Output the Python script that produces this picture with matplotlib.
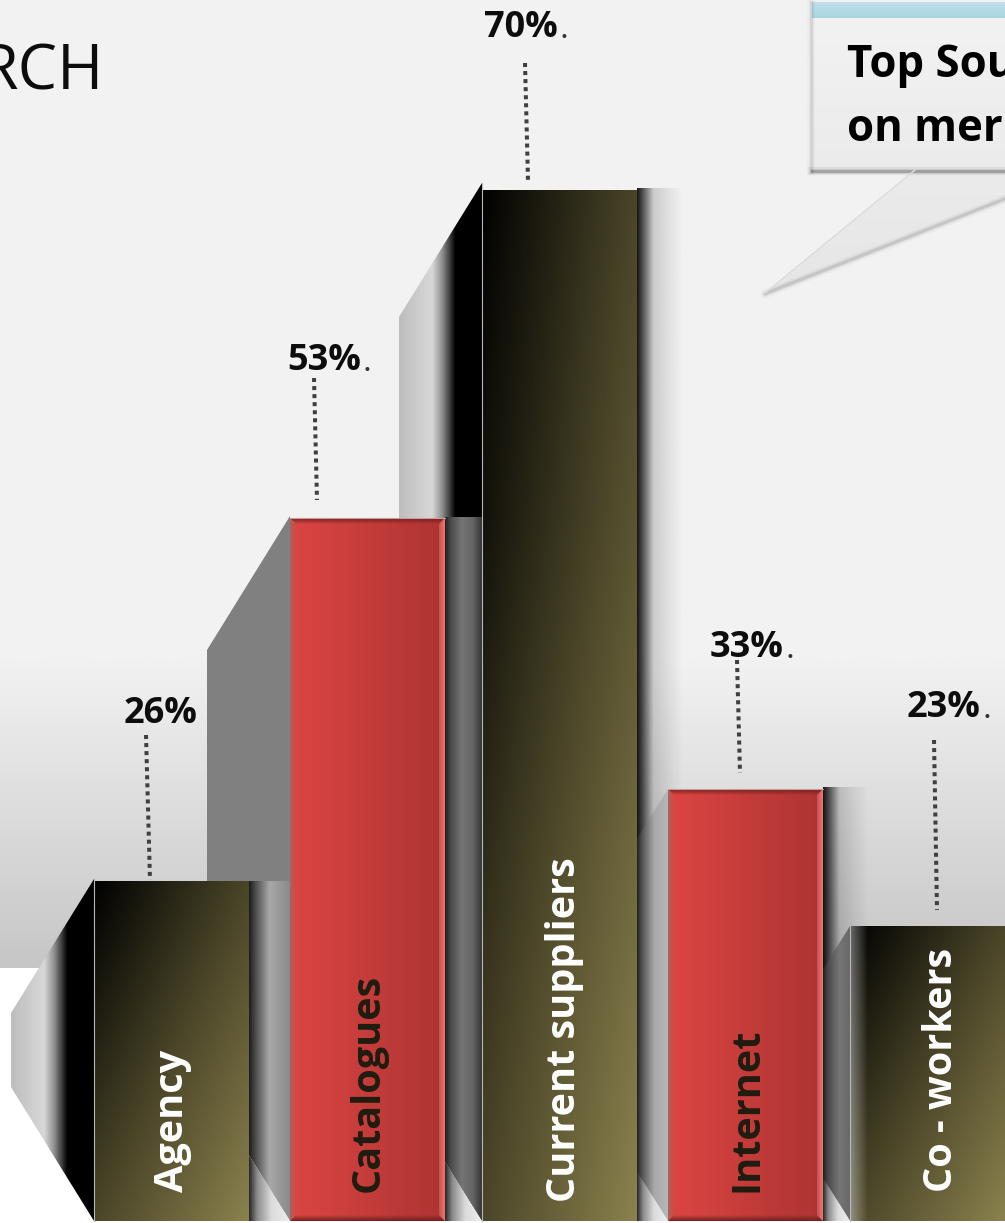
import numpy as np
import matplotlib
matplotlib.use('Agg')
import matplotlib.pyplot as plt
from matplotlib.colors import LinearSegmentedColormap, to_rgb
from matplotlib.patches import Polygon

# Survey results
categories = ['Agency', 'Catalogues', 'Current suppliers', 'Internet', 'Co - workers']
values = [26, 53, 70, 33, 23]
label_dot = [False, True, True, True, True]
bar_kind = ['dark', 'red', 'dark', 'red', 'dark']

# Value axis is not linear, bars grow faster at the top end
scale_vals = [0, 23, 26, 33, 53, 70, 85]
scale_px = [0, 295, 340, 432, 703, 1031, 1221]

# Layout in pixels
W, H = 1005, 1223
BASE = 1221
bar_left = [94, 290, 482, 668, 850]
bar_w = 155
wing_w = 83
slope = 1.6
wing_rise = [2, 2, 7, 1, 1]
label_x = [124, 287, 484, 710, 907]
label_y = [723, 370, 37, 657, 717]
leader_top = [(146, 735), (314, 378), (525, 63), (737, 660), (934, 740)]
leader_bot = [(150, 880), (317, 500), (528, 180), (740, 773), (937, 910)]
name_x = [173, 368, 564, 747, 942]
name_y = [1192, 1192, 1202, 1192, 1192]
name_col = ['white', '#1f1c10', 'white', '#1f1c10', 'white']

WING = [(0, '#bdbdbd'), (0.4, '#d8d8d8'), (0.52, '#909090'), (0.68, '#000000'), (1, '#000000')]
GAP_LOW = [(0, '#262626'), (0.2, '#8c8c8c'), (0.55, '#dcdcdc'), (1, '#eeeeee')]
GAP_A = [(0, '#1c1c1c'), (0.15, '#4a4a4a'), (0.5, '#a8a8a8'), (1, '#8a8a8a')]
GAP_B = [(0, '#1f1f1f'), (0.15, '#4a4a4a'), (0.45, '#757575'), (0.75, '#656565'), (1, '#333333')]
GAP_C = [(0, '#202020'), (0.15, '#505050'), (0.55, '#a8a8a8'), (1, '#b8b8b8')]
GAP_D = [(0, '#202020'), (0.2, '#4c4c4c'), (0.6, '#757575'), (1, '#686868')]
SHADOW = [(0, (0, 0, 0, 0.92)), (0.12, (0, 0, 0, 0.68)), (0.36, (0, 0, 0, 0.16)),
          (0.7, (0, 0, 0, 0.07)), (1, (0, 0, 0, 0))]

plt.rcParams['font.family'] = ['Open Sans', 'DejaVu Sans']
fig = plt.figure(figsize=(W / 100, H / 100), dpi=100, facecolor='white')

bg = fig.add_axes([0, 0, 1, 1], zorder=0)
ax = fig.add_axes([0, (H - BASE) / H, 1, BASE / H], zorder=1)
top = fig.add_axes([0, 0, 1, 1], zorder=2)
for a in (bg, top):
    a.set_xlim(0, W)
    a.set_ylim(H, 0)
    a.axis('off')
top.patch.set_alpha(0)


def grad(a, pts, stops, vertical=False):
    # gradient fill clipped to a polygon
    pts = np.array(pts, dtype=float)
    x0, x1 = pts[:, 0].min(), pts[:, 0].max()
    y0, y1 = pts[:, 1].min(), pts[:, 1].max()
    cmap = LinearSegmentedColormap.from_list('g', stops, N=512)
    ramp = np.linspace(0, 1, 512)
    ramp = ramp[:, None] if vertical else ramp[None, :]
    img = a.imshow(ramp, cmap=cmap, vmin=0, vmax=1, extent=(x0, x1, y1, y0),
                   aspect='auto', interpolation='bilinear')
    img.set_clip_path(Polygon(pts, transform=a.transData))
    a.set_xlim(0, W)
    a.set_ylim(H, 0)


# Value axis
ax.set_yscale('function', functions=(lambda v: np.interp(v, scale_vals, scale_px),
                                     lambda p: np.interp(p, scale_px, scale_vals)))
ax.set_xlim(0, W)
ax.set_ylim(0, scale_vals[-1])
ax.axis('off')
ax.patch.set_alpha(0)

# Page background
grad(bg, [(0, 0), (W, 0), (W, 660), (0, 660)], ['#f2f2f2', '#f2f2f2'], vertical=True)
grad(bg, [(0, 660), (W, 660), (W, 968), (0, 968)], ['#f2f2f2', '#c6c6c6'], vertical=True)

# Callout box and its tail
for lw, al in [(6, 0.03), (3.5, 0.05), (2, 0.10)]:
    bg.plot([765, 1005], [294, 199], color='black', lw=lw, alpha=al, solid_capstyle='round')
    bg.plot([812, 1005], [171, 171], color='black', lw=lw, alpha=al * 2)
    bg.plot([811, 811], [2, 171], color='black', lw=lw, alpha=al * 0.7)
grad(bg, [(915, 170), (765, 293), (1005, 198), (1005, 170)], ['#ebebeb', '#e6e6e6'], vertical=True)
bg.plot([915, 765], [170, 293], color='#dcdcdc', lw=1)
grad(bg, [(812, 2), (W, 2), (W, 170), (812, 170)], ['#f3f3f3', '#ebebeb'], vertical=True)
grad(bg, [(812, 2), (W, 2), (W, 18), (812, 18)], ['#bfe0ea', '#a8d6e3'], vertical=True)

# Bars
bars = ax.bar(bar_left, values, width=bar_w, align='edge', linewidth=0,
              color=['#4a4528' if k == 'dark' else '#c23c3a' for k in bar_kind])
dark_map = LinearSegmentedColormap.from_list('dark', ['#000000', '#4a4528', '#8a814d'])
red_a, red_b = np.array(to_rgb('#dc4543')), np.array(to_rgb('#ac3331'))
for left, val, kind in zip(bar_left, values, bar_kind):
    xs = np.linspace(left, left + bar_w, bar_w + 1)
    ys = np.linspace(0, val, 241)
    u = (np.arange(bar_w) + 0.5)[None, :] / bar_w
    v = 1 - (np.arange(240) + 0.5)[:, None] / 240
    if kind == 'dark':
        rgb = dark_map(0.5 * u + 0.5 * v)[..., :3]
    else:
        rgb = red_a + (red_b - red_a) * (u * np.ones_like(v))[..., None]
    ax.pcolormesh(xs, ys, rgb, shading='flat', antialiased=False, linewidth=0)


def bar_top(i):
    # pixel row of the top edge of a bar
    return H - ax.transData.transform((0, values[i]))[1]


tops = [bar_top(i) for i in range(len(values))]

# Right hand shadows that fall on the page background
for i in (2, 3):
    r = bar_left[i] + bar_w
    grad(bg, [(r, tops[i] - 2), (r + 46, tops[i] - 2), (r + 46, BASE), (r, BASE)], SHADOW)

# Slanted side panels on the left of each bar
for i in (0, 2):
    l = bar_left[i]
    grad(bg, [(l, tops[i] - wing_rise[i]), (l - wing_w, tops[i] - wing_rise[i] + 134),
              (l - wing_w, BASE - 134), (l, BASE)], WING)
l = bar_left[1]
bg.add_patch(Polygon([(l, tops[1] - wing_rise[1]), (l - wing_w, tops[1] - wing_rise[1] + 134),
                      (l - wing_w, tops[0]), (l, tops[0])], fc='#808080', ec='none'))

# Strips between neighbouring bars
gaps = [(0, GAP_A), (1, GAP_B), (2, GAP_C), (3, GAP_D)]
for i, stops in gaps:
    r = bar_left[i] + bar_w
    nx = bar_left[i + 1]
    low = BASE - slope * (nx - r)
    if tops[i + 1] < tops[i]:
        upper = [(r, tops[i] - 1), (nx, tops[i] - 1), (nx, BASE), (r, low)]
    else:
        upper = [(nx, tops[i + 1]), (nx, BASE), (r, low), (r, tops[i + 1] + slope * (nx - r))]
    grad(bg, upper, stops)
    grad(bg, [(r, low), (nx, BASE), (r, BASE)], GAP_LOW)

# Soft bevel on the red bars
for i, kind in enumerate(bar_kind):
    if kind != 'red':
        continue
    l, r, t, b, d = bar_left[i], bar_left[i] + bar_w, tops[i], BASE, 6
    shade = (0.42, 0.12, 0.11)
    grad(top, [(l, t), (r, t), (r - d, t + d), (l + d, t + d)],
         [(0, shade + (0.95,)), (1, shade + (0,))], vertical=True)
    grad(top, [(l, b), (r, b), (r - d, b - d), (l + d, b - d)],
         [(0, shade + (0,)), (1, shade + (0.95,))], vertical=True)
    grad(top, [(l, b), (l, t), (l + d, t + d), (l + d, b - d)],
         [(0, (0.55, 0.45, 0.45, 0.7)), (1, (0.55, 0.45, 0.45, 0))])
    grad(top, [(r, t), (r, b), (r - d, b - d), (r - d, t + d)], ['#c94f4d', '#ec7876'])
    top.plot([l, r], [t, t], color='#c99a98', lw=0.8)

# Hairline and soft edge on the dark bars
for i, kind in enumerate(bar_kind):
    if kind == 'dark':
        top.plot([bar_left[i]] * 2, [tops[i] - wing_rise[i], BASE], color='#b8b8b8', lw=0.8)
grad(top, [(850, tops[4]), (868, tops[4]), (868, BASE), (850, BASE)],
     [(0, (1, 1, 1, 0.42)), (1, (1, 1, 1, 0))])

# Leaders
for (x0, y0), (x1, y1) in zip(leader_top, leader_bot):
    top.plot([x0, x1], [y0, y1], color='#404040', lw=2.9, linestyle=(0, (1, 1)))

# Value labels
for x, y, val, dot in zip(label_x, label_y, values, label_dot):
    t = top.text(x, y, f'{val}%', fontsize=26, fontweight='bold', color='#0d0d0d',
                 ha='left', va='baseline')
    if dot:
        top.annotate('.', xy=(1, 0), xycoords=t, xytext=(1, 0), textcoords='offset points',
                     fontsize=24, color='#333333', ha='left', va='bottom')

# Names inside the bars
for name, x, y, col in zip(categories, name_x, name_y, name_col):
    top.text(x, y, name, rotation=90, fontsize=28.5, fontweight='bold', color=col,
             ha='center', va='bottom')

# Heading and callout text
top.text(104, 90, 'RCH', fontsize=45, color='#0d0d0d', ha='right', va='baseline')
top.text(847, 77, 'Top Sou', fontsize=31.5, fontweight='bold', color='black', va='baseline')
top.text(847, 141, 'on mer', fontsize=31.5, fontweight='bold', color='black', va='baseline')

plt.savefig('out.png', dpi=100, facecolor='white')
